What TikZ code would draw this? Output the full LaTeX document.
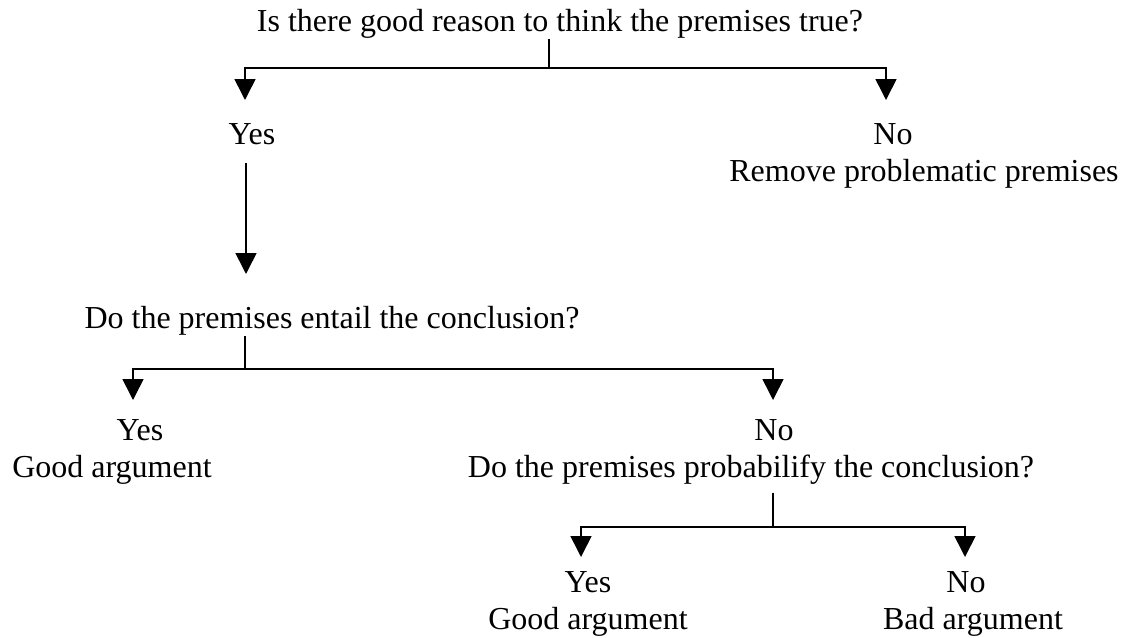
\documentclass[tikz,border=0pt]{standalone}
\usepackage{fontspec}
\setmainfont{Liberation Serif}
\usetikzlibrary{arrows.meta}

\begin{document}
\begin{tikzpicture}[x=1pt,y=-1pt,line width=1.6pt,
	txt/.style={inner sep=0pt,anchor=base,font=\fontsize{32}{38}\selectfont},
	arr/.style={-{Triangle[width=21pt,length=21pt]}}]
	\useasboundingbox (0,0) rectangle (1124,637);
	% first question
	\node[txt] (q1) at (560,31) {Is there good reason to think the premises true?};
	\coordinate (f1) at (549,68);
	\coordinate (t1a) at (245,100);
	\coordinate (t1b) at (886,100);
	\node[txt] (yes1) at (252,144) {Yes};
	\node[txt] (no1) at (893,144) {No};
	\node[txt] (rm1) at (924,181) {Remove problematic premises};
	\draw (q1.south -| f1) -- (f1);
	\draw[arr] (f1) -| (t1a);
	\draw[arr] (f1) -| (t1b);
	% second question
	\node[txt] (q2) at (332,328) {Do the premises entail the conclusion?};
	\coordinate (l1) at (246,274);
	\draw[arr,shorten <=18pt] (yes1.south -| l1) -- (l1);
	\coordinate (f2) at (245,369);
	\coordinate (t2a) at (133,400);
	\coordinate (t2b) at (773,400);
	\node[txt] (yes2) at (140,440) {Yes};
	\node[txt] (good2) at (112,477) {Good argument};
	\node[txt] (no2) at (774,440) {No};
	\node[txt] (q3) at (751,477) {Do the premises probabilify the conclusion?};
	\draw (q2.south -| f2) -- (f2);
	\draw[arr] (f2) -| (t2a);
	\draw[arr] (f2) -| (t2b);
	% third question
	\coordinate (f3) at (773,527);
	\coordinate (t3a) at (581,557);
	\coordinate (t3b) at (965,557);
	\node[txt] (yes3) at (588,592) {Yes};
	\node[txt] (good3) at (588,629) {Good argument};
	\node[txt] (no3) at (966,592) {No};
	\node[txt] (bad3) at (973,629) {Bad argument};
	\draw[shorten <=8pt] (q3.south -| f3) -- (f3);
	\draw[arr] (f3) -| (t3a);
	\draw[arr] (f3) -| (t3b);
\end{tikzpicture}
\end{document}
